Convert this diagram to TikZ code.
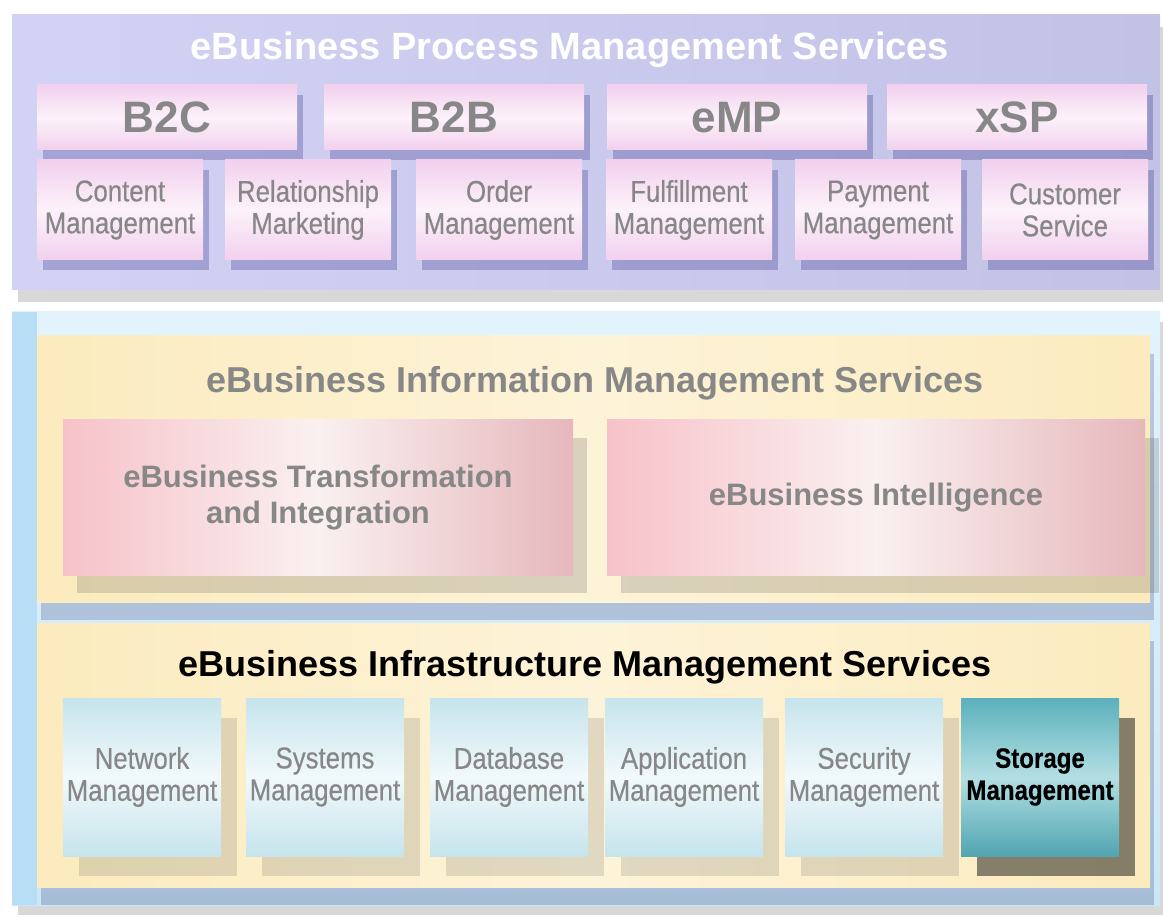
\documentclass[tikz,border=0pt]{standalone}
\usepackage{fontspec}
\setmainfont{Liberation Sans}
\newfontfamily\narrowsf{Liberation Sans}[FakeStretch=0.86,FakeBold=0.4]
\usetikzlibrary{shadows}
\definecolor{lavL}{HTML}{D2D2F5}
\definecolor{lavR}{HTML}{C2C2E6}
\definecolor{skyT}{HTML}{E2F3FC}
\definecolor{skyB}{HTML}{CBE7F7}
\definecolor{skyE}{HTML}{B8DEF6}
\definecolor{sandL}{HTML}{FBEBBE}
\definecolor{sandM}{HTML}{FDF3D8}
\definecolor{pinkT}{HTML}{F2D0EE}
\definecolor{pinkM}{HTML}{FCF2FA}
\definecolor{roseL}{HTML}{F6C2C9}
\definecolor{roseM}{HTML}{FAF0F0}
\definecolor{roseR}{HTML}{E6B8BC}
\definecolor{iceT}{HTML}{C6E4EC}
\definecolor{iceM}{HTML}{F1F9FB}
\definecolor{tealT}{HTML}{5BB0BB}
\definecolor{tealM}{HTML}{B3DFE4}
\definecolor{tealB}{HTML}{50A5B1}
\definecolor{txtgrey}{HTML}{878787}
\tikzset{
  procpanel/.style={left color=lavL,right color=lavR,
    drop shadow={shadow xshift=6pt,shadow yshift=-12pt,fill=black!60,opacity=.25}},
  skypanel/.style={top color=skyT,bottom color=skyB,
    drop shadow={shadow xshift=6pt,shadow yshift=-10pt,fill=black!60,opacity=.25}},
  sandpanel/.style={left color=sandL,right color=sandL,middle color=sandM,
    drop shadow={shadow xshift=4pt,shadow yshift=-18pt,fill=blue!30!black,opacity=.18}},
  title/.style={font=\bfseries\fontsize{36}{40}\selectfont,inner sep=0pt},
  pinkbox/.style={rectangle,inner sep=2pt,align=center,text=txtgrey,
    top color=pinkT,bottom color=pinkT,middle color=pinkM,
    drop shadow={shadow xshift=6pt,shadow yshift=-10pt,fill=blue!40!black,opacity=.22}},
  chan/.style={pinkbox,minimum width=260pt,minimum height=65pt,
    font=\bfseries\fontsize{44}{48}\selectfont},
  proc/.style={pinkbox,minimum width=166pt,minimum height=100pt,
    font=\narrowsf\fontsize{30}{32}\selectfont},
  infobox/.style={rectangle,align=center,text=txtgrey,minimum height=155pt,
    left color=roseL,right color=roseR,middle color=roseM,
    font=\bfseries\fontsize{31}{36}\selectfont,
    drop shadow={shadow xshift=14pt,shadow yshift=-18pt,fill=black!70,opacity=.2}},
  infra/.style={rectangle,align=center,text=txtgrey,inner sep=1pt,
    minimum width=158pt,minimum height=158pt,
    top color=iceT,bottom color=iceT,middle color=iceM,
    font=\narrowsf\fontsize{30}{32}\selectfont,
    drop shadow={shadow xshift=16pt,shadow yshift=-20pt,fill=black!70,opacity=.16}},
  infrahi/.style={infra,text=black,top color=tealT,bottom color=tealB,middle color=tealM,
    font=\narrowsf\bfseries\fontsize{28}{32}\selectfont,
    drop shadow={shadow xshift=16pt,shadow yshift=-20pt,fill=black,opacity=.4}}
}
\begin{document}
\begin{tikzpicture}[x=1pt,y=-1pt]
\useasboundingbox[fill=white] (0,0) rectangle (1163,917);
% process layer
\fill[procpanel] (12,15) rectangle (1160,290);
\node[title,text=white,font=\bfseries\fontsize{38}{40}\selectfont] (proctitle) at (570,50) {eBusiness Process Management Services};
\foreach \n/\t/\x in {b2c/B2C/167,b2b/B2B/454,emp/eMP/737,xsp/xSP/1017}
  \node[chan] (\n) at (\x,117.5) {\t};
\foreach \n/\t/\x in {content/Content\\Management/120,relation/Relationship\\Marketing/308,
    order/Order\\Management/499,fulfil/Fulfillment\\Management/689,
    payment/Payment\\Management/878,customer/Customer\\Service/1065}
  \node[proc] (\n) at (\x,210) {\t};
% lower layers
\fill[skypanel] (12,312) rectangle (1160,905);
\fill[skyE] (12,312) rectangle (37,905);
\fill[sandpanel] (37,336) rectangle (1150,602);
\node[title,text=txtgrey] (infotitle) at (595,383) {eBusiness Information Management Services};
\node[infobox,minimum width=510pt] (transform) at (318,497.5) {eBusiness Transformation\\and Integration};
\node[infobox,minimum width=538pt] (intel) at (876,497.5) {eBusiness Intelligence};
\fill[sandpanel] (37,623) rectangle (1150,887);
\node[title,text=black] (infratitle) at (585,667) {eBusiness Infrastructure Management Services};
\foreach \n/\t/\x in {network/Network/142,systems/Systems/325,database/Database/509,
    application/Application/684,security/Security/864}
  \node[infra] (\n) at (\x,777) {\t\\Management};
\node[infrahi] (storage) at (1040,777) {Storage\\Management};
\end{tikzpicture}
\end{document}
